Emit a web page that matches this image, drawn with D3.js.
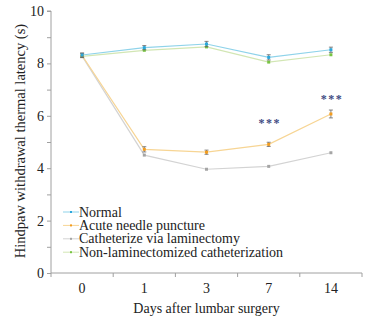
<!DOCTYPE html>
<html lang="en">
<head>
    <meta charset="UTF-8">
    <title>Hindpaw withdrawal thermal latency</title>
    <script src="https://d3js.org/d3.v7.min.js"></script>
    <style>
        body { margin: 0; background: #fff; }
        text { font-family: "Liberation Serif", "Times New Roman", serif; fill: #222; }
    </style>
</head>
<body>
    <script>
        // Data
        const days = ["0", "1", "3", "7", "14"];
        const seriesNames = ["Normal", "Acute needle puncture", "Catheterize via laminectomy", "Non-laminectomized catheterization"];
        const normal = [8.32, 8.6, 8.74, 8.23, 8.52];
        const normalErr = [0.08, 0.08, 0.1, 0.1, 0.1];
        const acute = [8.3, 4.72, 4.61, 4.91, 6.07];
        const acuteErr = [0.08, 0.1, 0.08, 0.08, 0.15];
        const laminectomy = [8.28, 4.5, 3.96, 4.07, 4.59];
        const laminectomyErr = [0.05, 0.03, 0.03, 0.03, 0.03];
        const nonLam = [8.27, 8.5, 8.63, 8.05, 8.33];
        const nonLamErr = [0.05, 0.03, 0.03, 0.03, 0.03];
        const yTicks = [0, 2, 4, 6, 8, 10];
        const stars = [{ day: "7", value: 5.76 }, { day: "14", value: 6.68 }];

        const series = [
            { name: seriesNames[0], values: normal, err: normalErr, line: "#8fd3ea", dot: "#2aa7dc" },
            { name: seriesNames[1], values: acute, err: acuteErr, line: "#f7d594", dot: "#f39c1e" },
            { name: seriesNames[2], values: laminectomy, err: laminectomyErr, line: "#d3d3d3", dot: "#a5a5a5" },
            { name: seriesNames[3], values: nonLam, err: nonLamErr, line: "#d2e6b4", dot: "#78c443" }
        ];

        const width = 371, height = 321;
        const margin = { left: 51, right: 9, top: 11, bottom: 48 };

        const svg = d3.select("body").append("svg")
            .attr("width", width)
            .attr("height", height);

        const x = d3.scaleBand().domain(days).range([margin.left, width - margin.right]);
        const y = d3.scaleLinear().domain([0, 10]).range([height - margin.bottom, margin.top]);

        // Y axis
        const yAxis = svg.append("g")
            .attr("transform", `translate(${margin.left},0)`)
            .call(d3.axisLeft(y).tickValues(d3.range(0, 11)).tickSize(4)
                .tickFormat(d => yTicks.includes(d) ? d : ""));
        yAxis.selectAll("path, line").attr("stroke", "#a0a0a0");
        yAxis.selectAll("text").attr("font-size", 14).attr("x", -7);
        yAxis.select(".domain").attr("d", `M-4,${y(10)}H0V${y(0)}`);

        // X axis with ticks at the band boundaries
        const xAxis = svg.append("g")
            .attr("transform", `translate(0,${y(0)})`);
        xAxis.append("line")
            .attr("x1", margin.left).attr("x2", width - margin.right)
            .attr("stroke", "#a0a0a0");
        xAxis.selectAll(".bnd")
            .data(days.map(d => x(d)).concat([x(days[days.length - 1]) + x.bandwidth()]))
            .join("line")
            .attr("x1", d => d).attr("x2", d => d)
            .attr("y1", 0).attr("y2", 4)
            .attr("stroke", "#a0a0a0");
        xAxis.selectAll(".lbl")
            .data(days)
            .join("text")
            .attr("x", d => x(d) + x.bandwidth() / 2)
            .attr("y", 20)
            .attr("text-anchor", "middle")
            .attr("font-size", 14)
            .text(d => d);

        svg.append("text")
            .attr("x", (margin.left + width - margin.right) / 2)
            .attr("y", 313)
            .attr("text-anchor", "middle")
            .attr("font-size", 14)
            .text("Days after lumbar surgery");

        svg.append("text")
            .attr("transform", `translate(25,141) rotate(-90)`)
            .attr("text-anchor", "middle")
            .attr("font-size", 14.5)
            .text("Hindpaw withdrawal thermal latency (s)");

        const cx = d => x(d) + x.bandwidth() / 2;
        const line = d3.line().x((v, i) => cx(days[i])).y(v => y(v));

        // Lines, drawn bottom series first
        [2, 3, 1, 0].forEach(k => {
            const s = series[k];
            svg.append("path")
                .attr("d", line(s.values))
                .attr("fill", "none")
                .attr("stroke", s.line)
                .attr("stroke-width", 1.2);
        });

        // Error bars and markers
        [2, 3, 1, 0].forEach(k => {
            const s = series[k];
            const g = svg.append("g");
            s.values.forEach((v, i) => {
                const px = cx(days[i]);
                if (s.err[i] > 0.05) {
                    g.append("path")
                        .attr("d", `M${px - 2},${y(v + s.err[i])}H${px + 2}M${px},${y(v + s.err[i])}V${y(v - s.err[i])}M${px - 2},${y(v - s.err[i])}H${px + 2}`)
                        .attr("stroke", "#666")
                        .attr("stroke-width", 0.8)
                        .attr("fill", "none");
                }
                g.append("rect")
                    .attr("x", px - 1.5).attr("y", y(v) - 1.5)
                    .attr("width", 3).attr("height", 3)
                    .attr("fill", s.dot);
            });
        });

        // Significance marks
        svg.selectAll(".star")
            .data(stars)
            .join("text")
            .attr("x", d => cx(d.day) + 1)
            .attr("y", d => y(d.value) + 5)
            .attr("text-anchor", "middle")
            .attr("font-size", 12)
            .attr("font-weight", "bold")
            .style("fill", "#3e4a82")
            .attr("letter-spacing", 1.5)
            .text("***");

        // Legend
        const legend = svg.append("g").attr("transform", "translate(63,212)");
        series.forEach((s, i) => {
            const row = legend.append("g").attr("transform", `translate(0,${i * 13.4})`);
            row.append("line").attr("x1", 0).attr("x2", 16).attr("stroke", s.line);
            row.append("rect").attr("x", 7).attr("y", -1).attr("width", 2).attr("height", 2).attr("fill", s.dot);
            row.append("text").attr("x", 16).attr("y", 4.5).attr("font-size", 14).text(s.name);
        });
    </script>
</body>
</html>
